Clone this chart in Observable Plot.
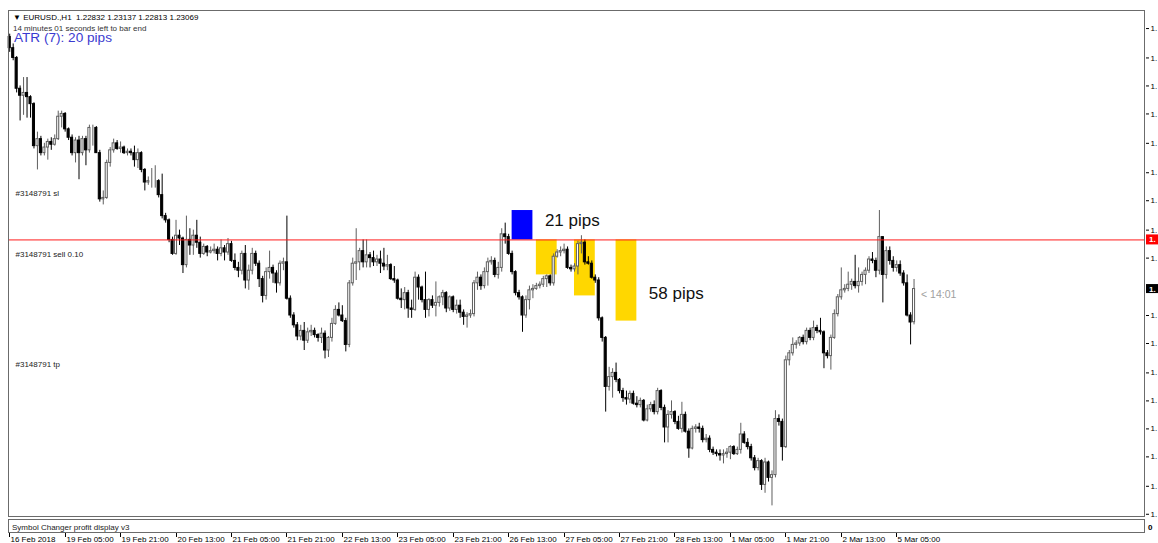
<!DOCTYPE html>
<html>
<head>
<meta charset="utf-8">
<script src="https://cdn.jsdelivr.net/npm/d3@7"></script>
<script src="https://cdn.jsdelivr.net/npm/@observablehq/plot@0.6"></script>
<style>
html, body { margin:0; padding:0; background:#fff; overflow:hidden; }
#chart { width:1158px; height:543px; }
</style>
</head>
<body>
<div id="chart"></div>
<script>
// EURUSD H1 candles, bar 0 = 16 Feb 2018 13:00
const open = [1.2487,1.2479,1.2472,1.2450,1.2445,1.2447,1.2444,1.2439,1.2409,1.2414,
1.2404,1.2408,1.2412,1.2410,1.2414,1.2430,1.2432,1.2421,1.2415,1.2404,
1.2413,1.2404,1.2414,1.2406,1.2422,1.2422,1.2404,1.2371,1.2372,1.2397,
1.2406,1.2411,1.2407,1.2408,1.2404,1.2405,1.2404,1.2399,1.2404,1.2392,
1.2383,1.2384,1.2384,1.2384,1.2374,1.2359,1.2356,1.2342,1.2332,1.2345,
1.2343,1.2324,1.2342,1.2338,1.2345,1.2340,1.2332,1.2337,1.2333,1.2334,
1.2335,1.2332,1.2336,1.2333,1.2339,1.2327,1.2322,1.2320,1.2332,1.2313,
1.2320,1.2332,1.2325,1.2314,1.2302,1.2319,1.2322,1.2318,1.2311,1.2325,
1.2326,1.2300,1.2288,1.2281,1.2273,1.2277,1.2270,1.2276,1.2277,1.2274,
1.2272,1.2275,1.2263,1.2272,1.2282,1.2292,1.2288,1.2284,1.2267,1.2311,
1.2325,1.2326,1.2334,1.2326,1.2331,1.2329,1.2326,1.2328,1.2325,1.2323,
1.2324,1.2314,1.2313,1.2300,1.2299,1.2304,1.2293,1.2292,1.2315,1.2308,
1.2299,1.2292,1.2299,1.2295,1.2297,1.2301,1.2304,1.2293,1.2301,1.2292,
1.2295,1.2290,1.2287,1.2288,1.2289,1.2311,1.2315,1.2309,1.2319,1.2326,
1.2327,1.2317,1.2322,1.2346,1.2344,1.2332,1.2319,1.2304,1.2301,1.2288,
1.2299,1.2306,1.2307,1.2309,1.2310,1.2314,1.2316,1.2311,1.2330,1.2333,
1.2334,1.2335,1.2322,1.2321,1.2323,1.2339,1.2340,1.2326,1.2325,1.2315,
1.2313,1.2286,1.2272,1.2237,1.2244,1.2247,1.2242,1.2234,1.2229,1.2228,
1.2232,1.2225,1.2224,1.2227,1.2213,1.2221,1.2224,1.2219,1.2234,1.2222,
1.2208,1.2217,1.2219,1.2212,1.2207,1.2217,1.2205,1.2193,1.2207,1.2208,
1.2207,1.2199,1.2200,1.2192,1.2190,1.2189,1.2188,1.2189,1.2190,1.2194,
1.2189,1.2192,1.2203,1.2197,1.2194,1.2186,1.2179,1.2184,1.2167,1.2183,
1.2172,1.2174,1.2214,1.2212,1.2194,1.2256,1.2261,1.2267,1.2268,1.2272,
1.2269,1.2277,1.2272,1.2279,1.2277,1.2276,1.2261,1.2259,1.2272,1.2289,
1.2301,1.2306,1.2307,1.2310,1.2312,1.2309,1.2312,1.2317,1.2320,1.2328,
1.2327,1.2320,1.2344,1.2317,1.2334,1.2327,1.2322,1.2324,1.2318,1.2311,
1.2288,1.22832];
const high = [1.2489,1.2482,1.2473,1.2452,1.2458,1.2458,1.2445,1.2440,1.2419,1.2416,
1.2411,1.2414,1.2415,1.2417,1.2434,1.2434,1.2433,1.2422,1.2417,1.2415,
1.2416,1.2416,1.2416,1.2424,1.2424,1.2423,1.2406,1.2377,1.2399,1.2408,
1.2414,1.2413,1.2412,1.2409,1.2407,1.2407,1.2409,1.2407,1.2405,1.2393,
1.2387,1.2393,1.2395,1.2385,1.2389,1.2361,1.2357,1.2344,1.2356,1.2349,
1.2344,1.2359,1.2350,1.2349,1.2356,1.2344,1.2339,1.2338,1.2337,1.2339,
1.2337,1.2342,1.2338,1.2343,1.2341,1.2332,1.2326,1.2334,1.2338,1.2324,
1.2336,1.2334,1.2327,1.2316,1.2322,1.2334,1.2324,1.2320,1.2327,1.2329,
1.2359,1.2302,1.2290,1.2283,1.2281,1.2283,1.2279,1.2281,1.2279,1.2275,
1.2279,1.2277,1.2273,1.2286,1.2295,1.2297,1.2295,1.2286,1.2313,1.2329,
1.2350,1.2336,1.2342,1.2342,1.2333,1.2334,1.2331,1.2334,1.2336,1.2331,
1.2325,1.2323,1.2314,1.2307,1.2308,1.2306,1.2299,1.2319,1.2317,1.2309,
1.2319,1.2300,1.2302,1.2312,1.2302,1.2306,1.2305,1.2302,1.2302,1.2299,
1.2299,1.2292,1.2290,1.2292,1.2313,1.2319,1.2317,1.2322,1.2329,1.2330,
1.2329,1.2326,1.2350,1.2354,1.2346,1.2334,1.2320,1.2306,1.2302,1.2302,
1.2309,1.2310,1.2311,1.2312,1.2316,1.2317,1.2317,1.2332,1.2335,1.2337,
1.2339,1.2337,1.2324,1.2325,1.2341,1.2345,1.2342,1.2330,1.2327,1.2317,
1.2315,1.2287,1.2273,1.2251,1.2250,1.2254,1.2243,1.2236,1.2234,1.2234,
1.2234,1.2230,1.2229,1.2228,1.2224,1.2226,1.2227,1.2236,1.2235,1.2224,
1.2220,1.2227,1.2220,1.2216,1.2226,1.2219,1.2207,1.2209,1.2210,1.2211,
1.2209,1.2203,1.2202,1.2194,1.2192,1.2192,1.2192,1.2193,1.2195,1.2195,
1.2194,1.2211,1.2205,1.2200,1.2196,1.2188,1.2186,1.2185,1.2186,1.2184,
1.2177,1.2220,1.2217,1.2214,1.2259,1.2263,1.2272,1.2270,1.2273,1.2274,
1.2279,1.2279,1.2284,1.2281,1.2286,1.2277,1.2263,1.2274,1.2292,1.2303,
1.2322,1.2310,1.2319,1.2314,1.2331,1.2322,1.2319,1.2322,1.2330,1.2333,
1.2329,1.2363,1.2344,1.2337,1.2337,1.2330,1.2327,1.2327,1.2320,1.2317,
1.2290,1.23137];
const low = [1.2476,1.2470,1.2447,1.2427,1.2431,1.2429,1.2429,1.2407,1.2392,1.2402,
1.2402,1.2399,1.2406,1.2409,1.2413,1.2422,1.2419,1.2413,1.2402,1.2397,
1.2385,1.2402,1.2395,1.2404,1.2409,1.2404,1.2369,1.2367,1.2371,1.2394,
1.2404,1.2406,1.2404,1.2403,1.2402,1.2402,1.2394,1.2393,1.2390,1.2377,
1.2381,1.2379,1.2379,1.2372,1.2357,1.2354,1.2340,1.2331,1.2331,1.2338,
1.2318,1.2322,1.2331,1.2331,1.2336,1.2329,1.2331,1.2330,1.2332,1.2332,
1.2327,1.2330,1.2327,1.2331,1.2326,1.2320,1.2315,1.2317,1.2307,1.2306,
1.2317,1.2323,1.2308,1.2297,1.2299,1.2314,1.2311,1.2304,1.2309,1.2320,
1.2299,1.2286,1.2279,1.2270,1.2270,1.2263,1.2268,1.2273,1.2272,1.2269,
1.2268,1.2257,1.2258,1.2269,1.2281,1.2287,1.2283,1.2262,1.2265,1.2309,
1.2313,1.2320,1.2322,1.2322,1.2322,1.2323,1.2323,1.2318,1.2320,1.2320,
1.2313,1.2311,1.2299,1.2293,1.2292,1.2286,1.2286,1.2291,1.2299,1.2297,
1.2286,1.2287,1.2293,1.2287,1.2294,1.2295,1.2290,1.2291,1.2290,1.2289,
1.2286,1.2281,1.2279,1.2286,1.2287,1.2306,1.2306,1.2307,1.2309,1.2324,
1.2315,1.2314,1.2319,1.2339,1.2331,1.2317,1.2302,1.2299,1.2276,1.2286,
1.2292,1.2300,1.2306,1.2307,1.2308,1.2308,1.2309,1.2309,1.2329,1.2330,
1.2332,1.2321,1.2319,1.2319,1.2317,1.2332,1.2324,1.2324,1.2314,1.2311,
1.2284,1.2269,1.2219,1.2234,1.2229,1.2240,1.2232,1.2226,1.2224,1.2225,
1.2224,1.2222,1.2222,1.2212,1.2212,1.2219,1.2217,1.2217,1.2220,1.2197,
1.2197,1.2214,1.2210,1.2206,1.2204,1.2204,1.2186,1.2192,1.2204,1.2204,
1.2197,1.2197,1.2190,1.2188,1.2187,1.2184,1.2182,1.2186,1.2185,1.2188,
1.2188,1.2189,1.2196,1.2192,1.2184,1.2177,1.2177,1.2163,1.2161,1.2169,
1.2152,1.2172,1.2209,1.2184,1.2193,1.2252,1.2259,1.2264,1.2266,1.2267,
1.2267,1.2270,1.2270,1.2275,1.2274,1.2250,1.2257,1.2249,1.2271,1.2287,
1.2299,1.2304,1.2305,1.2306,1.2307,1.2304,1.2309,1.2310,1.2318,1.2325,
1.2315,1.2317,1.2297,1.2314,1.2324,1.2319,1.2319,1.2316,1.2309,1.2287,
1.2267,1.22813];
const close = [1.2479,1.2472,1.2450,1.2445,1.2447,1.2444,1.2439,1.2409,1.2414,1.2404,
1.2408,1.2412,1.2410,1.2414,1.2430,1.2432,1.2421,1.2415,1.2404,1.2413,
1.2404,1.2414,1.2406,1.2422,1.2422,1.2404,1.2371,1.2372,1.2397,1.2406,
1.2411,1.2407,1.2408,1.2404,1.2405,1.2404,1.2399,1.2404,1.2392,1.2383,
1.2384,1.2384,1.2384,1.2374,1.2359,1.2356,1.2342,1.2332,1.2345,1.2343,
1.2324,1.2342,1.2338,1.2345,1.2340,1.2332,1.2337,1.2333,1.2334,1.2335,
1.2332,1.2336,1.2333,1.2339,1.2327,1.2322,1.2320,1.2332,1.2313,1.2320,
1.2332,1.2325,1.2314,1.2302,1.2319,1.2322,1.2318,1.2311,1.2325,1.2326,
1.2300,1.2288,1.2281,1.2273,1.2277,1.2270,1.2276,1.2277,1.2274,1.2272,
1.2275,1.2263,1.2272,1.2282,1.2292,1.2288,1.2284,1.2267,1.2311,1.2325,
1.2326,1.2334,1.2326,1.2331,1.2329,1.2326,1.2328,1.2325,1.2323,1.2324,
1.2314,1.2313,1.2300,1.2299,1.2304,1.2293,1.2292,1.2315,1.2308,1.2299,
1.2292,1.2299,1.2295,1.2297,1.2301,1.2304,1.2293,1.2301,1.2292,1.2295,
1.2290,1.2287,1.2288,1.2289,1.2311,1.2315,1.2309,1.2319,1.2326,1.2327,
1.2317,1.2322,1.2346,1.2344,1.2332,1.2319,1.2304,1.2301,1.2288,1.2299,
1.2306,1.2307,1.2309,1.2310,1.2314,1.2316,1.2311,1.2330,1.2333,1.2334,
1.2335,1.2322,1.2321,1.2323,1.2339,1.2340,1.2326,1.2325,1.2315,1.2313,
1.2286,1.2272,1.2237,1.2244,1.2247,1.2242,1.2234,1.2229,1.2228,1.2232,
1.2225,1.2224,1.2227,1.2213,1.2221,1.2224,1.2219,1.2234,1.2222,1.2208,
1.2217,1.2219,1.2212,1.2207,1.2217,1.2205,1.2193,1.2207,1.2208,1.2207,
1.2199,1.2200,1.2192,1.2190,1.2189,1.2188,1.2189,1.2190,1.2194,1.2189,
1.2192,1.2203,1.2197,1.2194,1.2186,1.2179,1.2184,1.2167,1.2183,1.2172,
1.2174,1.2214,1.2212,1.2194,1.2256,1.2261,1.2267,1.2268,1.2272,1.2269,
1.2277,1.2272,1.2279,1.2277,1.2276,1.2261,1.2259,1.2272,1.2289,1.2301,
1.2306,1.2307,1.2310,1.2312,1.2309,1.2312,1.2317,1.2320,1.2328,1.2327,
1.2320,1.2344,1.2317,1.2334,1.2327,1.2322,1.2324,1.2318,1.2311,1.2288,
1.2283,1.23069];

// time axis: bar index of each label
const tickIdx = [0,16,32,48,64,80,96,112,128,144,160,176,192,208,224,240,256];
const timeLabels = ["16 Feb 2018","19 Feb 05:00","19 Feb 21:00","20 Feb 13:00","21 Feb 05:00","21 Feb 21:00",
  "22 Feb 13:00","23 Feb 05:00","23 Feb 21:00","26 Feb 13:00","27 Feb 05:00","27 Feb 21:00",
  "28 Feb 13:00","1 Mar 05:00","1 Mar 21:00","2 Mar 13:00","5 Mar 05:00"];
// price axis ticks (labels are cut to "1." by the narrow price scale; the one under the bid box is hidden)
const priceTicks = [1.2493,1.2472,1.2452,1.2432,1.2411,1.2390,1.2370,1.2349,1.2329,
  1.2288,1.2268,1.2247,1.2227,1.2207,1.2187,1.2166,1.2146];

// order #3148791 levels: sl, sell entry, tp
const orderText = ["#3148791 sl", "#3148791 sell 0.10", "#3148791 tp"];
const orderLevel = [1.2386, 1.2342, 1.2264];

// pip boxes (bar range, price range)
const boxStart  = [145, 152, 163, 175];
const boxEnd    = [151, 158, 169, 181];
const boxTop    = [1.2363, 1.2342, 1.2342, 1.2342];
const boxBottom = [1.2342, 1.2317, 1.2302, 1.2284];
const boxColor  = ["#0000ff", "#ffd700", "#ffd700", "#ffd700"];

const pipText  = ["21 pips", "58 pips"];
const pipBar   = [151, 181];
const pipPrice = [1.2356, 1.2304];

const symbolName = "EURUSD.,H1";
const atrText = "ATR (7): 20 pips";
const timeLeft = "14:01";
const timeLeftText = "14 minutes 01 seconds left to bar end";
const subTitle = "Symbol Changer profit display v3";

const N = close.length;
const bars = d3.range(N).map(i => ({i, o: open[i], h: high[i], l: low[i], c: close[i], up: close[i] >= open[i]}));
const boxes = boxStart.map((s, k) => ({x1: s, x2: boxEnd[k], y1: boxBottom[k], y2: boxTop[k], fill: boxColor[k]}));
const pipNotes = pipText.map((t, k) => ({text: t, x: pipBar[k], y: pipPrice[k]}));
const orderNotes = orderText.map((t, k) => ({text: t, y: orderLevel[k]}));
const FONT = "'Liberation Sans', Arial, sans-serif";
const header = "\u25BC " + symbolName + "  " + [open[N-1], high[N-1], low[N-1], close[N-1]].map(v => v.toFixed(5)).join(" ");

function chrome(index, scales, values, dim) {
  const {width, height, marginTop, marginRight, marginBottom, marginLeft} = dim;
  const x0 = marginLeft, x1 = width - marginRight, y0 = marginTop, y1 = height - marginBottom;
  const g = d3.create("svg:g").attr("font-family", FONT).attr("text-anchor", "start");
  g.append("rect").attr("x", x0 + 0.5).attr("y", y0 + 0.5).attr("width", x1 - x0 - 1).attr("height", y1 - y0 - 1)
    .attr("fill", "none").attr("stroke", "#6b6b6b");
  g.append("rect").attr("x", x0 + 0.5).attr("y", y1 + 2.5).attr("width", x1 - x0 - 1).attr("height", 13)
    .attr("fill", "none").attr("stroke", "#6b6b6b");
  g.append("text").attr("x", x0 + 4).attr("y", y1 + 12.5).attr("font-size", 8).attr("fill", "#222").text(subTitle);
  g.append("text").attr("x", x1 + 3).attr("y", y1 + 12.5).attr("font-size", 8).attr("font-weight", "bold").attr("fill", "#000").text("0");
  tickIdx.forEach((t, k) => {
    const x = Math.round(scales.x(t)) + 0.5;
    g.append("line").attr("x1", x).attr("x2", x).attr("y1", y1 + 16).attr("y2", y1 + 20).attr("stroke", "#000");
    g.append("text").attr("x", x + 1).attr("y", y1 + 25).attr("font-size", 8).attr("fill", "#000").text(timeLabels[k]);
  });
  const yo = scales.y(orderLevel[1]);
  g.append("rect").attr("x", x1 + 1).attr("y", yo - 5).attr("width", width - x1 - 1).attr("height", 10).attr("fill", "#ff0000");
  g.append("text").attr("x", x1 + 4).attr("y", yo + 3).attr("font-size", 8).attr("font-weight", "bold").attr("fill", "#fff").text("1.");
  const yb = scales.y(close[N-1]);
  g.append("rect").attr("x", x1 + 1).attr("y", yb - 4.5).attr("width", width - x1 - 1).attr("height", 9).attr("fill", "#000");
  g.append("text").attr("x", x1 + 4).attr("y", yb + 3).attr("font-size", 8).attr("font-weight", "bold").attr("fill", "#fff").text("1.");
  g.append("text").attr("x", x0 + 5).attr("y", y0 + 10).attr("font-size", 8).attr("fill", "#000")
    .style("white-space", "pre").text(header);
  g.append("text").attr("x", x0 + 5).attr("y", y0 + 21).attr("font-size", 8).attr("fill", "#333").text(timeLeftText);
  g.append("text").attr("x", x0 + 6).attr("y", y0 + 32).attr("font-size", 13.6).attr("fill", "#3a3ad0").text(atrText);
  return g.node();
}

const chart = Plot.plot({
  width: 1158, height: 543,
  marginTop: 10, marginRight: 13, marginBottom: 26, marginLeft: 8,
  style: {background: "#fff", fontFamily: FONT, fontSize: "8px", color: "#000"},
  x: {domain: [-0.35, 327.8], axis: null},
  y: {domain: [1.21437, 1.25059], axis: null},
  color: {type: "identity"},
  marks: [
    Plot.rect(boxes, {x1: "x1", x2: "x2", y1: "y1", y2: "y2", fill: "fill"}),
    Plot.ruleX(bars, {x: "i", y1: "l", y2: "h", stroke: d => d.up ? "#5e5e5e" : "#000000", strokeWidth: 1}),
    Plot.rect(bars, {x1: d => d.i - 0.3, x2: d => d.i + 0.3, y1: "o", y2: "c",
      fill: d => d.up ? "#ffffff" : "#000000", stroke: d => d.up ? "#5e5e5e" : "#000000", strokeWidth: 1}),
    Plot.ruleY([orderLevel[1]], {stroke: "#ff1a1a", strokeWidth: 1}),
    Plot.text(pipNotes, {x: "x", y: "y", text: "text", textAnchor: "start", dx: 12, fontSize: 17, fill: "#111"}),
    Plot.text(orderNotes, {y: "y", text: "text", frameAnchor: "left", textAnchor: "start", dx: 7, dy: 15, fontSize: 8, fill: "#222"}),
    Plot.text([{x: N - 1, y: close[N - 1], t: "< " + timeLeft}], {x: "x", y: "y", text: "t", textAnchor: "start", dx: 7, dy: 6, fontSize: 10.5, fill: "#a0a0a0"}),
    Plot.axisY(priceTicks, {anchor: "right", tickSize: 3, tickPadding: 2, tickFormat: () => "1.", fontSize: 8}),
    chrome
  ]
});
document.getElementById("chart").append(chart);
</script>
</body>
</html>
